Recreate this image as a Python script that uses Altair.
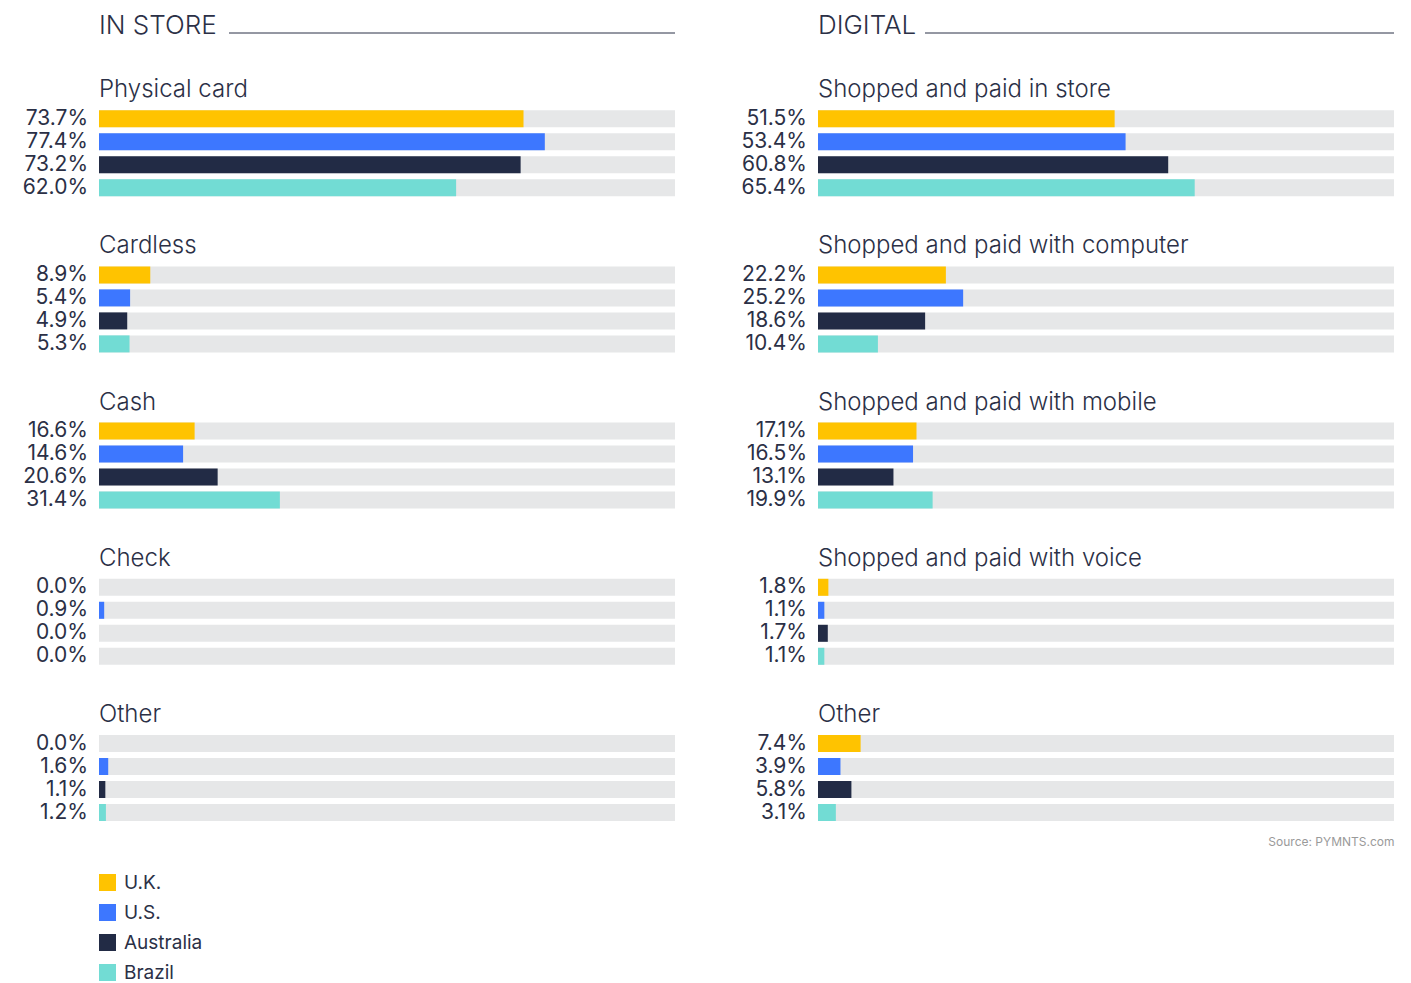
import altair as alt
import pandas as pd

countries = ["U.K.", "U.S.", "Australia", "Brazil"]
palette = ["#FFC300", "#3D77FF", "#222B45", "#72DCD4"]

in_store_categories = ["Physical card", "Cardless", "Cash", "Check", "Other"]
in_store_uk = [73.7, 8.9, 16.6, 0.0, 0.0]
in_store_us = [77.4, 5.4, 14.6, 0.9, 1.6]
in_store_au = [73.2, 4.9, 20.6, 0.0, 1.1]
in_store_br = [62.0, 5.3, 31.4, 0.0, 1.2]

digital_categories = ["Shopped and paid in store", "Shopped and paid with computer",
                      "Shopped and paid with mobile", "Shopped and paid with voice", "Other"]
digital_uk = [51.5, 22.2, 17.1, 1.8, 7.4]
digital_us = [53.4, 25.2, 16.5, 1.1, 3.9]
digital_au = [60.8, 18.6, 13.1, 1.7, 5.8]
digital_br = [65.4, 10.4, 19.9, 1.1, 3.1]

TEXT = "#2b3046"
FONT = "Inter"
W = 576
H = 92


def group_chart(title, vals):
    df = pd.DataFrame({
        "country": countries,
        "value": vals,
        "full": [100] * 4,
        "label": [f"{v:.1f}%" for v in vals],
    })
    ysc = alt.Scale(domain=countries, paddingInner=0.26, paddingOuter=0.13)
    xsc = alt.Scale(domain=[0, 100])
    base = alt.Chart(df).encode(y=alt.Y("country:N", sort=countries, axis=None, scale=ysc))
    bg = base.mark_bar(color="#E6E7E8").encode(x=alt.X("full:Q", scale=xsc, axis=None))
    fg = base.mark_bar().encode(
        x=alt.X("value:Q", scale=xsc, axis=None),
        color=alt.Color("country:N", scale=alt.Scale(domain=countries, range=palette),
                        legend=alt.Legend(orient="none", legendX=-1, legendY=860, title=None,
                                          symbolType="square", symbolSize=289,
                                          symbolStrokeWidth=0, labelFontSize=19,
                                          labelFont=FONT, labelColor=TEXT,
                                          labelFontWeight=400,
                                          rowPadding=10, labelOffset=7)),
    )
    txt = base.mark_text(align="right", baseline="middle", dx=-11, fontSize=21,
                         font=FONT, color=TEXT, fontWeight=400).encode(
        x=alt.value(0), text="label:N")
    return alt.layer(bg, fg, txt).properties(
        width=W, height=H,
        title=alt.TitleParams(title, anchor="start", frame="group", fontSize=24, font=FONT,
                              fontWeight=300, color=TEXT, offset=5))


def header_chart(name, line_start):
    df = pd.DataFrame({"t": [name]})
    base = alt.Chart(df)
    t = base.mark_text(align="left", baseline="alphabetic", fontSize=26, font=FONT,
                       fontWeight=300, color=TEXT).encode(
        x=alt.value(0), y=alt.value(21), text="t:N")
    r = base.mark_rule(color=TEXT, strokeWidth=1).encode(
        x=alt.value(line_start), x2=alt.value(W), y=alt.value(20))
    return alt.layer(t, r).properties(width=W, height=30)


def panel(name, line_start, cats, a, b, c, d, source=False):
    charts = [header_chart(name, line_start)]
    for i, cat in enumerate(cats):
        charts.append(group_chart(cat, [a[i], b[i], c[i], d[i]]))
    v = alt.vconcat(*charts, spacing=35.2)
    if source:
        v = v.properties(title=alt.TitleParams("Source: PYMNTS.com", orient="bottom",
                                               anchor="end", fontSize=12,
                                               font=FONT, fontWeight=400, color="#9a9a9a",
                                               offset=13))
    return v


left = panel("IN STORE", 130, in_store_categories, in_store_uk, in_store_us, in_store_au, in_store_br)
right = panel("DIGITAL", 107, digital_categories, digital_uk, digital_us, digital_au, digital_br, source=True)

chart = alt.hconcat(left, right, spacing=65).properties(
    padding={"left": 14, "top": 5, "right": 5, "bottom": 0},
    background="white",
).configure_view(stroke=None, strokeWidth=0)

chart.save("out.html", embed_options={"renderer": "svg", "actions": False})
